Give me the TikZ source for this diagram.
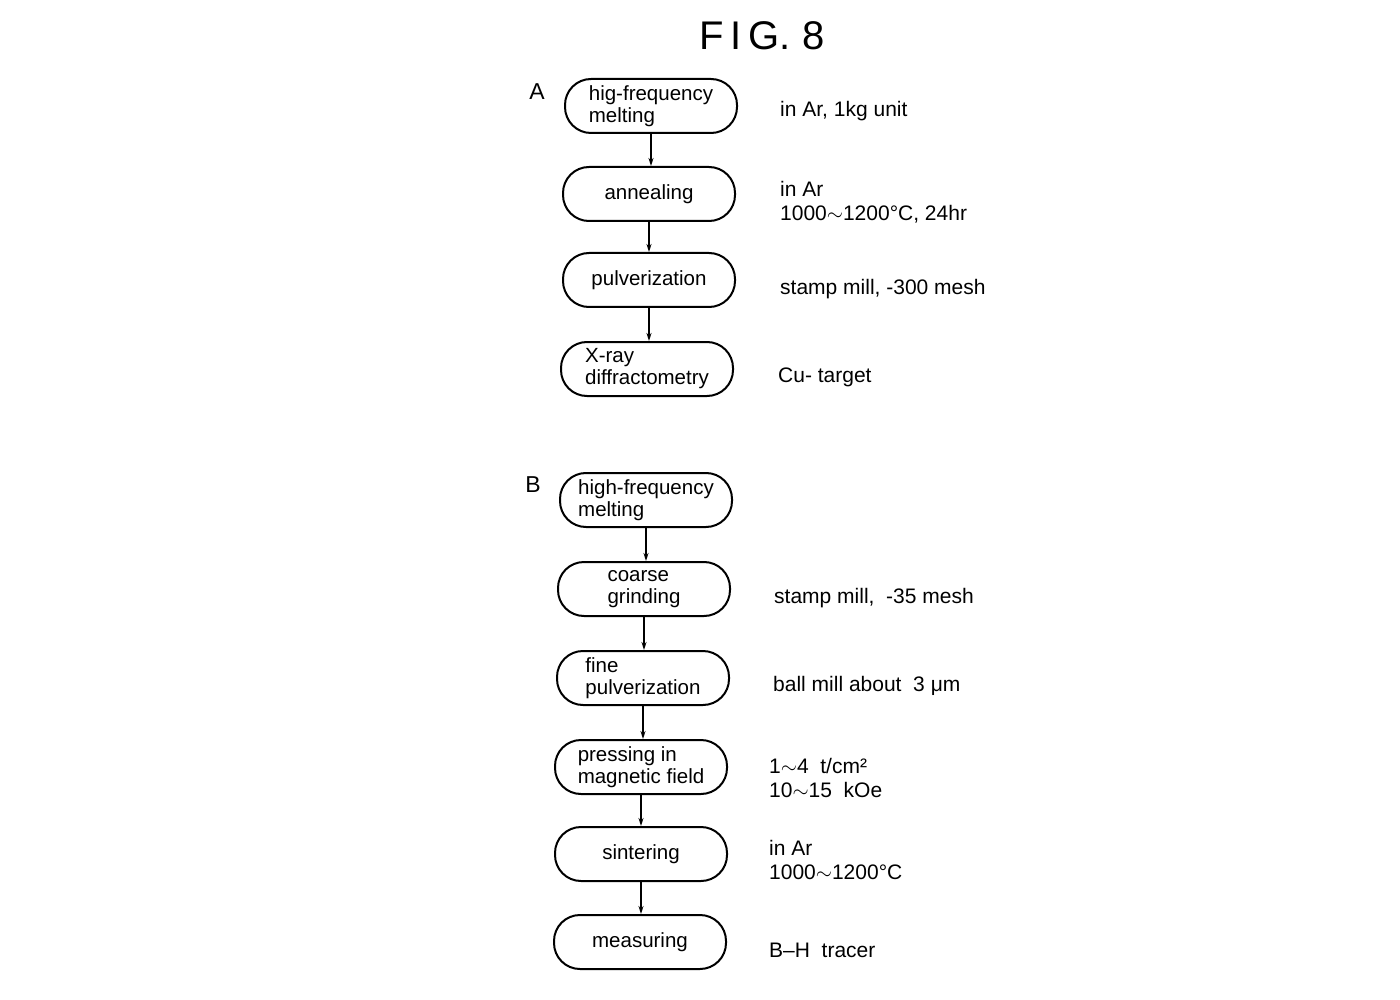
\documentclass[tikz,border=0pt]{standalone}
\usepackage{fontspec}
\setmainfont{Liberation Sans}
\usetikzlibrary{arrows.meta}
\begin{document}
\begin{tikzpicture}[x=1pt,y=-1pt,
  proc/.style={draw, line width=2pt, rounded corners=26pt, minimum width=172pt, minimum height=54pt, align=left, inner sep=0pt, font=\fontsize{20.5}{22}\selectfont},
  note/.style={anchor=west, align=left, font=\fontsize{21}{24.5}\selectfont, inner sep=0pt},
  lbl/.style={font=\fontsize{23}{23}\selectfont, inner sep=0pt},
  flow/.style={-{Stealth[length=8pt,width=5pt]}, line width=1.4pt}]
\useasboundingbox[fill=white] (0,0) rectangle (1400,1000);

\node[font=\fontsize{40}{40}\selectfont, inner sep=0pt] (title) at (762,36) {F\,I\,G.\ 8};

% group A
\node[lbl] (la) at (537,92) {A};
\node[proc] (a1) at (651,106) {hig-frequency\\melting};
\node[proc] (a2) at (649,194) {annealing};
\node[proc] (a3) at (649,280) {pulverization};
\node[proc] (a4) at (647,369) {X-ray\\diffractometry};

\draw[flow] (a1.south) -- (a1.south |- a2.north);
\draw[flow] (a2.south) -- (a2.south |- a3.north);
\draw[flow] (a3.south) -- (a3.south |- a4.north);

\node[note] (na1) at (780,111) {in Ar, 1kg unit};
\node[note] (na2) at (780,202) {in Ar\\1000$\sim$1200°C, 24hr};
\node[note] (na3) at (780,289) {stamp mill, -300 mesh};
\node[note] (na4) at (778,377) {Cu- target};

% group B
\node[lbl] (lb) at (533,485) {B};
\node[proc] (b1) at (646,500) {high-frequency\\melting};
\node[proc] (b2) at (644,589) {coarse\\grinding};
\node[proc] (b3) at (643,678) {fine\\pulverization};
\node[proc] (b4) at (641,767) {pressing in\\magnetic field};
\node[proc] (b5) at (641,854) {sintering};
\node[proc] (b6) at (640,942) {measuring};

\draw[flow] (b1.south) -- (b1.south |- b2.north);
\draw[flow] (b2.south) -- (b2.south |- b3.north);
\draw[flow] (b3.south) -- (b3.south |- b4.north);
\draw[flow] (b4.south) -- (b4.south |- b5.north);
\draw[flow] (b5.south) -- (b5.south |- b6.north);

\node[note] (nb2) at (774,598) {stamp mill,\ \ -35 mesh};
\node[note] (nb3) at (773,686) {ball mill about\ \ 3 μm};
\node[note] (nb4) at (769,778) {1$\sim$4\ \ t/cm²\\10$\sim$15\ \ kOe};
\node[note] (nb5) at (769,860) {in Ar\\1000$\sim$1200°C};
\node[note] (nb6) at (769,950) {B–H\ \ tracer};
\end{tikzpicture}
\end{document}
